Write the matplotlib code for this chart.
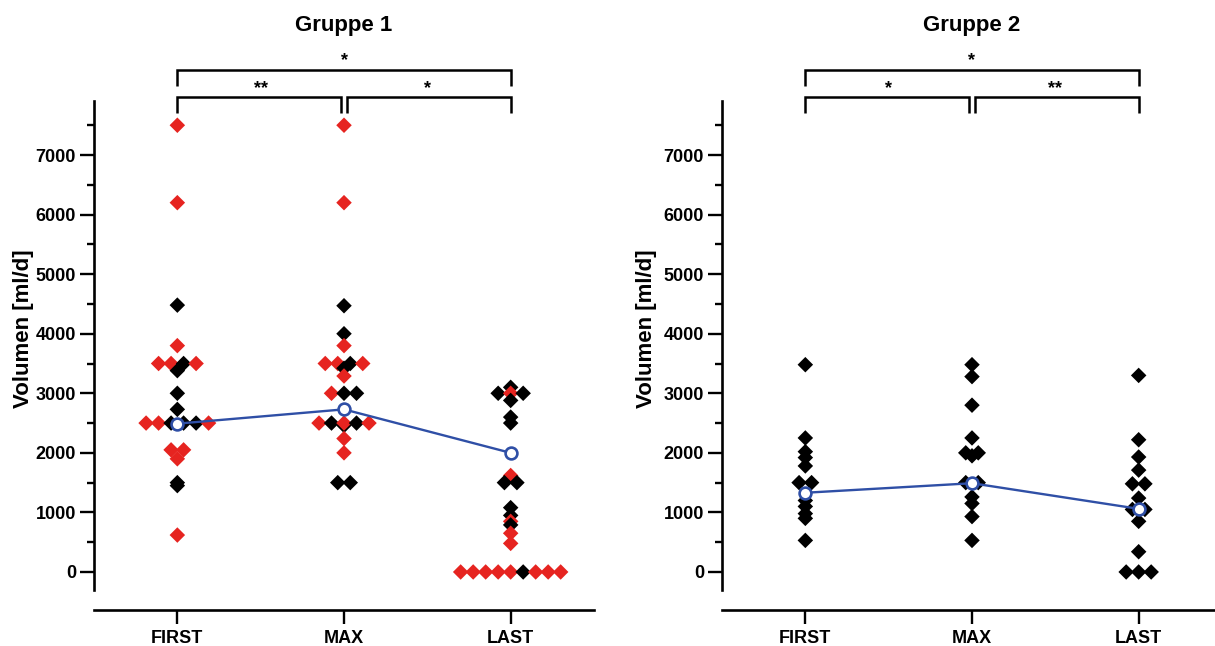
import matplotlib
matplotlib.use('Agg')
import numpy as np
import matplotlib.pyplot as plt
from matplotlib.transforms import blended_transform_factory

plt.rcParams['font.family'] = ['Liberation Sans', 'DejaVu Sans']
plt.rcParams['font.weight'] = 'bold'

# ---------------- data ----------------
categories = ['FIRST', 'MAX', 'LAST']
titles = ['Gruppe 1', 'Gruppe 2']
y_label = 'Volumen [ml/d]'
y_major = [0, 1000, 2000, 3000, 4000, 5000, 6000, 7000]
y_minor = [500, 1500, 2500, 3500, 4500, 5500, 6500, 7500]

# Gruppe 1 (1 = red subgroup, 0 = black subgroup)
g1_first = [7500, 6200, 4480, 3800, 3500, 3500, 3500, 3500, 3380, 3000, 2730,
            2500, 2500, 2500, 2500, 2500, 2500, 2050, 2050, 1900, 1500, 1450, 620]
g1_first_red = [1, 1, 0, 1, 1, 1, 0, 1, 0, 0, 0,
                1, 1, 0, 0, 0, 1, 1, 1, 1, 0, 0, 1]
g1_max = [7500, 6200, 4470, 4000, 3800, 3500, 3500, 3500, 3500, 3420, 3290,
          3000, 3000, 3000, 2460, 2500, 2500, 2500, 2500, 2500, 2240, 2000, 1500, 1500]
g1_max_red = [1, 1, 0, 0, 1, 1, 1, 0, 1, 0, 1,
              1, 0, 0, 0, 1, 0, 1, 0, 1, 1, 1, 0, 0]
g1_last = [3100, 3000, 3000, 3000, 2880, 2600, 2500, 1620, 1500, 1500, 1080, 950,
           850, 790, 650, 480, 0, 0, 0, 0, 0, 0, 0, 0, 0]
g1_last_red = [0, 0, 1, 0, 0, 0, 0, 1, 0, 0, 0, 0,
               1, 0, 1, 1, 1, 1, 1, 1, 1, 0, 1, 1, 1]
g1_center = [2490, 2730, 2000]
g1_sig = ['**', '*', '*']          # FIRST-MAX, MAX-LAST, FIRST-LAST

# Gruppe 2
g2_first = [3480, 2250, 2020, 1920, 1780, 1500, 1500, 1200, 1100, 980, 900, 530]
g2_max = [3480, 3280, 2800, 2250, 2000, 2000, 1950, 1500, 1500, 1260, 1150, 930, 530]
g2_last = [3300, 2220, 1930, 1710, 1480, 1480, 1240, 1050, 1050, 850, 340, 0, 0, 0]
g2_center = [1330, 1490, 1060]
g2_sig = ['*', '**', '*']

RED = '#E62420'
BLUE = '#2F4FA6'
STEP = 0.075


def swarm(vals, step=STEP):
    vals = np.asarray(vals, dtype=float)
    off = np.zeros(len(vals))
    for v in np.unique(vals):
        idx = np.where(vals == v)[0]
        n = len(idx)
        off[idx] = (np.arange(n) - (n - 1) / 2) * step
    return off


def bracket(ax, x0, x1, y_top, y_bot):
    tr = blended_transform_factory(ax.transData, ax.transAxes)
    ax.plot([x0, x0, x1, x1], [y_bot, y_top, y_top, y_bot], color='black',
            lw=1.8, clip_on=False, transform=tr, solid_joinstyle='miter',
            solid_capstyle='butt')


def panel(ax, groups, center, sig, title, ylab_x):
    for ci, (vals, reds) in enumerate(groups):
        vals = np.asarray(vals, dtype=float)
        x = ci + swarm(vals)
        if reds is None:
            cols = ['black'] * len(vals)
        else:
            cols = [RED if r else 'black' for r in reds]
        ax.scatter(x, vals, marker='D', s=7.9 ** 2, c=cols, linewidths=0, zorder=3)
    ax.plot(range(3), center, color=BLUE, lw=1.7, zorder=4)
    ax.plot(range(3), center, ls='none', marker='o', ms=8.5, mfc='white',
            mec=BLUE, mew=1.9, zorder=5)

    ax.set_xlim(-0.5, 2.5)
    ax.set_ylim(-630, 7900)
    for s in ['top', 'right']:
        ax.spines[s].set_visible(False)
    ax.spines['left'].set_bounds(-300, 7900)
    ax.spines['left'].set_linewidth(1.9)
    ax.spines['bottom'].set_linewidth(1.9)
    ax.set_xticks(range(3))
    ax.set_xticklabels(categories)
    ax.set_yticks(y_major)
    ax.set_yticks(y_minor, minor=True)
    ax.tick_params(axis='y', which='major', length=10, width=1.7, labelsize=13, pad=3)
    ax.tick_params(axis='y', which='minor', length=5, width=1.7)
    ax.tick_params(axis='x', length=10, width=1.7, labelsize=13, pad=5)

    tr = blended_transform_factory(ax.transData, ax.transAxes)
    g = 0.018
    bracket(ax, 0, 1 - g, 1.0087, 0.977)
    bracket(ax, 1 + g, 2, 1.0087, 0.977)
    bracket(ax, 0, 2, 1.0618, 1.030)
    ax.text(0.5, 1.0244, sig[0], transform=tr, ha='center', va='center', fontsize=13)
    ax.text(1.5, 1.0244, sig[1], transform=tr, ha='center', va='center', fontsize=13)
    ax.text(1.0, 1.0797, sig[2], transform=tr, ha='center', va='center', fontsize=13)
    ax.text(1.0, 1.149, title, transform=tr, ha='center', va='center', fontsize=16)
    ax.text(ylab_x, 0.552, y_label, transform=ax.transAxes, rotation=90,
            ha='center', va='center', fontsize=16)


fig = plt.figure(figsize=(12.15, 6.46), dpi=100)
ax1 = fig.add_axes([0.07737, 0.0565, 0.41152, 0.7865])
ax2 = fig.add_axes([0.59424, 0.0565, 0.41152, 0.7865])

panel(ax1, [(g1_first, g1_first_red), (g1_max, g1_max_red), (g1_last, g1_last_red)],
      g1_center, g1_sig, titles[0], -0.142)
panel(ax2, [(g2_first, None), (g2_max, None), (g2_last, None)],
      g2_center, g2_sig, titles[1], -0.152)

fig.savefig('out.png', dpi=100, facecolor='white')
